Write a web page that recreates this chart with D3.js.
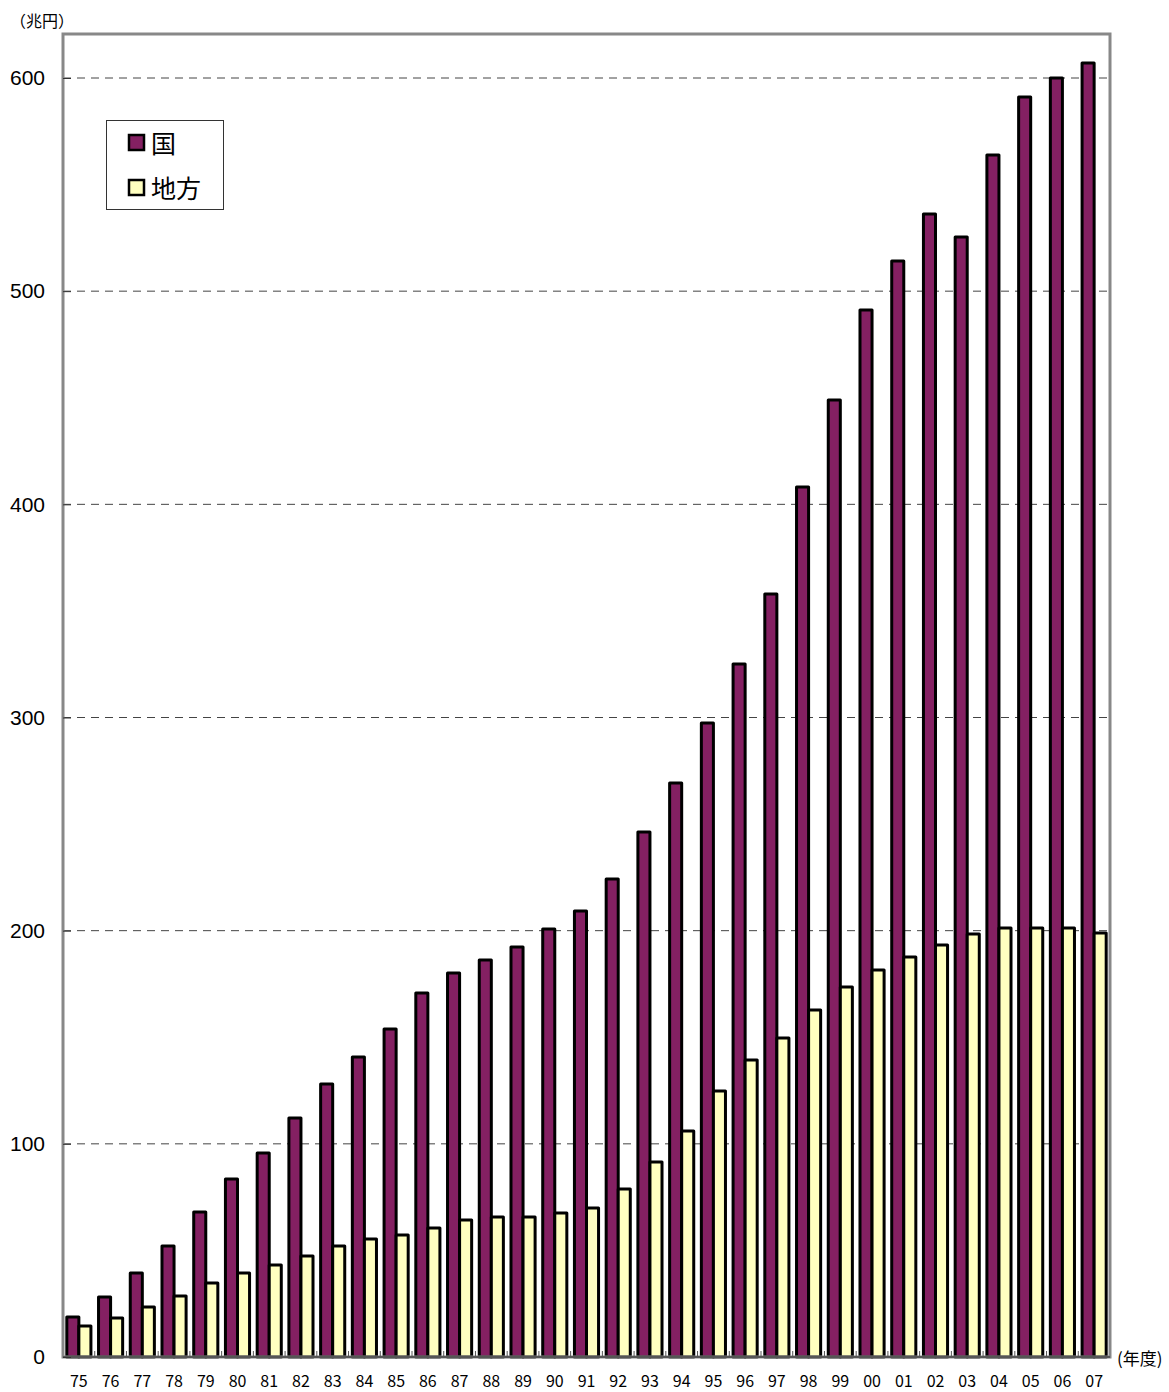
<!DOCTYPE html>
<html><head><meta charset="utf-8">
<script src="https://cdn.jsdelivr.net/npm/d3@7"></script>
<style>body{margin:0;background:#fff;} svg{display:block;}</style>
</head><body>
<svg id="chart" width="1169" height="1392"></svg>
<script>
const years = ["75","76","77","78","79","80","81","82","83","84","85","86","87","88","89","90","91","92","93","94","95","96","97","98","99","00","01","02","03","04","05","06","07"];
const kuni = [18.8,28.1,39.4,52.1,68.0,83.5,95.7,112.1,128.1,140.7,153.9,170.8,180.1,186.2,192.3,200.8,209.2,224.2,246.3,269.3,297.4,325.1,357.9,408.1,448.9,491.2,514.1,536.2,525.4,563.9,591.1,600.0,607.0];
const chiho = [14.5,18.3,23.5,28.6,34.7,39.4,43.2,47.4,52.1,55.4,57.2,60.5,64.3,65.7,65.7,67.6,69.9,78.8,91.5,106.0,124.8,139.3,149.6,162.8,173.6,181.5,187.6,193.3,198.4,201.2,201.2,201.2,198.9];
const seriesNames = ["国","地方"];
const yTicks = [0,100,200,300,400,500,600];
const colors = ["#842062","#FFFFC0"];

const svg = d3.select("#chart");
const L = 63, R = 1110, T = 34, B = 1357;
const x = d3.scaleBand().domain(years).range([L, R]).paddingInner(0.24).paddingOuter(0.12);
const y = d3.scaleLinear().domain([0, 600]).range([B, 78]);

// gridlines
svg.append("g").selectAll("line").data(yTicks.filter(d => d > 0)).join("line")
  .attr("x1", L).attr("x2", R).attr("y1", d => y(d)).attr("y2", d => y(d))
  .attr("stroke", "#444").attr("stroke-width", 1).attr("stroke-dasharray", "8,6");

// bars
const bw = x.bandwidth() / 2;
const data = [kuni, chiho];
data.forEach((vals, si) => {
  svg.append("g").selectAll("rect").data(vals).join("rect")
    .attr("x", (d, i) => x(years[i]) + si * bw)
    .attr("y", d => y(d))
    .attr("width", bw)
    .attr("height", d => B - y(d))
    .attr("fill", colors[si])
    .attr("stroke", "#000").attr("stroke-width", 3).attr("stroke-linejoin", "round");
});

// frame
svg.append("rect").attr("x", L).attr("y", T).attr("width", R - L).attr("height", B - T)
  .attr("fill", "none").attr("stroke", "#888").attr("stroke-width", 3);
svg.append("line").attr("x1", L).attr("x2", R).attr("y1", B).attr("y2", B)
  .attr("stroke", "#555").attr("stroke-width", 2);

// y axis
const yAxis = d3.axisLeft(y).tickValues(yTicks).tickSize(-8).tickPadding(18).tickFormat(d3.format("d"));
const ya = svg.append("g").attr("transform", `translate(${L},0)`).call(yAxis);
ya.select(".domain").remove();
ya.selectAll(".tick line").attr("stroke", "#333");
ya.selectAll("text").attr("font-family", "Liberation Sans, Arial, sans-serif").attr("font-size", 21).attr("fill", "#000");

// x axis
const xAxis = d3.axisBottom(x).tickSize(0).tickPadding(19);
const xa = svg.append("g").attr("transform", `translate(0,${B})`).call(xAxis);
xa.select(".domain").remove();
xa.selectAll("text").attr("font-family", "Noto Sans CJK JP, sans-serif").attr("font-size", 16).attr("fill", "#000");

// ticks between categories
const step = x.step();
svg.append("g").selectAll("line").data(years.slice(1)).join("line")
  .attr("x1", d => x(d) - step * x.paddingInner() / 2).attr("x2", d => x(d) - step * x.paddingInner() / 2)
  .attr("y1", B).attr("y2", B - 6).attr("stroke", "#555").attr("stroke-width", 1);

// unit labels
svg.append("text").attr("x", 10).attr("y", 27).text("（兆円）")
  .attr("font-family", "Noto Sans CJK JP, sans-serif").attr("font-size", 16).attr("fill", "#000");
svg.append("text").attr("x", 1117).attr("y", 1365).text("(年度)")
  .attr("font-family", "Noto Sans CJK JP, sans-serif").attr("font-size", 17).attr("fill", "#000");

// legend
const lg = svg.append("g");
lg.append("rect").attr("x", 106.5).attr("y", 120.5).attr("width", 117).attr("height", 89)
  .attr("fill", "#fff").attr("stroke", "#333").attr("stroke-width", 1);
seriesNames.forEach((n, i) => {
  const yy = 143 + i * 45;
  lg.append("rect").attr("x", 129).attr("y", yy - 8).attr("width", 15).attr("height", 15)
    .attr("fill", colors[i]).attr("stroke", "#000").attr("stroke-width", 2.5);
  lg.append("text").attr("x", 151).attr("y", yy + 10).text(n)
    .attr("font-family", "Noto Sans CJK JP, sans-serif").attr("font-size", 25).attr("fill", "#000");
});
</script>
</body></html>
